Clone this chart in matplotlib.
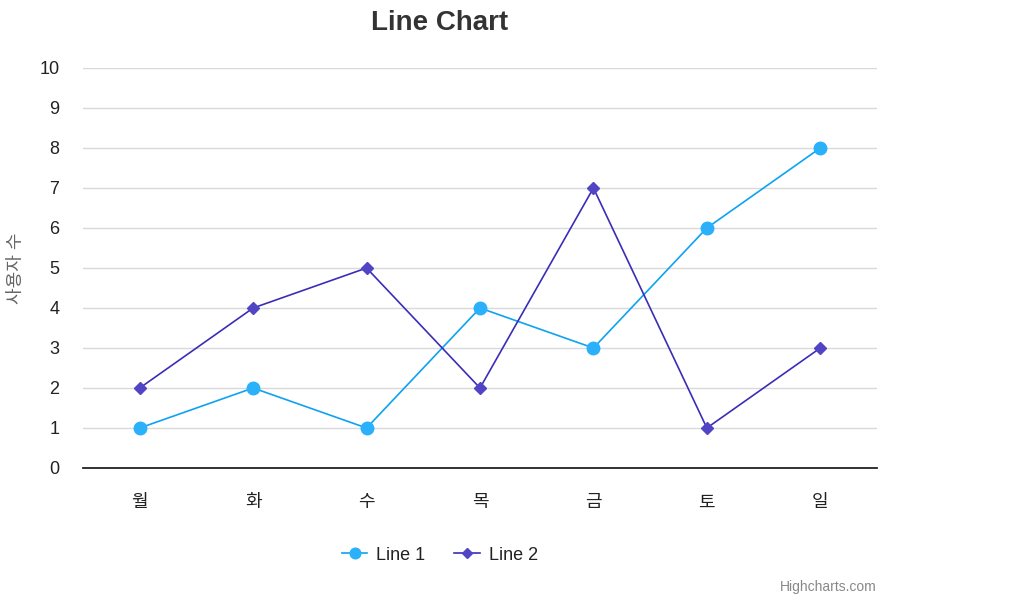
import matplotlib.pyplot as plt
import numpy as np

plt.rcParams['font.family'] = ['Liberation Sans', 'Noto Sans CJK KR', 'DejaVu Sans']

days = ['월', '화', '수', '목', '금', '토', '일']
line1 = [1, 2, 1, 4, 3, 6, 8]
line2 = [2, 4, 5, 2, 7, 1, 3]

fig = plt.figure(figsize=(10.24, 6.01), dpi=100)
ax = fig.add_axes([83 / 1024, 133 / 601, 794 / 1024, 400 / 601])

x = np.arange(len(days))
ax.plot(x, line1, '-', color='#0da2f2', lw=1.2, marker='o', ms=9,
        mfc='#2bb0fb', mec='#2bb0fb', label='Line 1', zorder=3)
ax.plot(x, line2, '-', color='#3a2db8', lw=1.2, marker='D', ms=6.5,
        mfc='#5145c6', mec='#5145c6', label='Line 2', zorder=3)

ax.set_xlim(-0.5, len(days) - 0.5)
ax.set_ylim(0, 10)
ax.set_yticks(range(0, 11))
ax.set_xticks(x)
ax.set_xticklabels(days)
ax.grid(axis='y', color='#d9d9d9', lw=1)
ax.set_axisbelow(True)
for s in ['top', 'right', 'left']:
    ax.spines[s].set_visible(False)
ax.spines['bottom'].set_color('#222222')
ax.spines['bottom'].set_linewidth(1.3)
ax.tick_params(axis='both', length=0, labelsize=13, colors='#222222')
ax.tick_params(axis='x', pad=19)
ax.tick_params(axis='y', pad=17)

fig.text(17 / 1024, 1 - 268 / 601, '사용자 수', rotation=90, ha='center', va='center',
         fontsize=13, color='#666666')
fig.text(440 / 1024, 1 - 23 / 601, 'Line Chart', ha='center', va='center',
         fontsize=20, fontweight='bold', color='#333333')

leg = fig.legend(loc='center', bbox_to_anchor=(440 / 1024, 1 - 555 / 601), ncol=2,
                 frameon=False, fontsize=13, handlelength=1.4, columnspacing=1.6,
                 handletextpad=0.5, markerscale=0.85)
for t in leg.get_texts():
    t.set_color('#222222')

fig.text(877 / 1024, 1 - 587 / 601, 'Highcharts.com', ha='right', va='center',
         fontsize=10, color='#888888')

fig.savefig('out.png', dpi=100)
